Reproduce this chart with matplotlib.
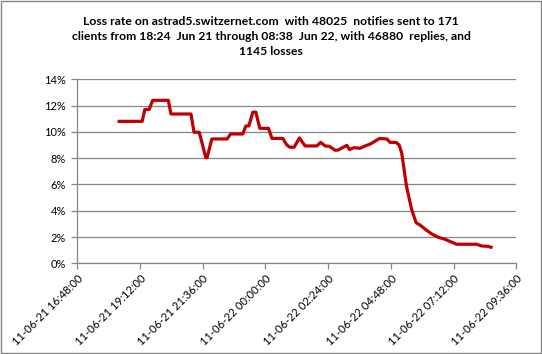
import matplotlib
matplotlib.use('Agg')
import matplotlib.pyplot as plt
import matplotlib.dates as mdates
from matplotlib.patches import Rectangle
from matplotlib.ticker import FuncFormatter
import pandas as pd


times = ["2011-06-21 18:24", "2011-06-21 19:17", "2011-06-21 19:23", "2011-06-21 19:33",
         "2011-06-21 19:41", "2011-06-21 20:17", "2011-06-21 20:23", "2011-06-21 21:09",
         "2011-06-21 21:16", "2011-06-21 21:28", "2011-06-21 21:43", "2011-06-21 21:46",
         "2011-06-21 21:57", "2011-06-21 22:32", "2011-06-21 22:40", "2011-06-21 23:08",
         "2011-06-21 23:15", "2011-06-21 23:22", "2011-06-21 23:31", "2011-06-21 23:38",
         "2011-06-21 23:47", "2011-06-22 00:07", "2011-06-22 00:15", "2011-06-22 00:40",
         "2011-06-22 00:49", "2011-06-22 00:56", "2011-06-22 01:06", "2011-06-22 01:18",
         "2011-06-22 01:31", "2011-06-22 01:58", "2011-06-22 02:07", "2011-06-22 02:17",
         "2011-06-22 02:27", "2011-06-22 02:40", "2011-06-22 02:47", "2011-06-22 03:07",
         "2011-06-22 03:13", "2011-06-22 03:23", "2011-06-22 03:37", "2011-06-22 03:49",
         "2011-06-22 04:00", "2011-06-22 04:22", "2011-06-22 04:39", "2011-06-22 04:46",
         "2011-06-22 05:00", "2011-06-22 05:07", "2011-06-22 05:13", "2011-06-22 05:24",
         "2011-06-22 05:36", "2011-06-22 05:46", "2011-06-22 05:55", "2011-06-22 06:07",
         "2011-06-22 06:22", "2011-06-22 06:37", "2011-06-22 06:52", "2011-06-22 07:19",
         "2011-06-22 08:05", "2011-06-22 08:16", "2011-06-22 08:31", "2011-06-22 08:38"]

loss_rate = [10.8, 10.8, 11.7, 11.7,
             12.4, 12.4, 11.36, 11.36,
             9.97, 9.97, 8.04, 8.04,
             9.46, 9.46, 9.84, 9.84,
             10.45, 10.45, 11.5, 11.5,
             10.27, 10.27, 9.5, 9.5,
             9.0, 8.83, 8.83, 9.54,
             8.93, 8.93, 9.2, 8.93,
             8.9, 8.6, 8.62, 8.98,
             8.65, 8.8, 8.75, 8.93,
             9.06, 9.5, 9.46, 9.2,
             9.2, 9.0, 8.37, 5.83,
             4.06, 3.09, 2.91, 2.59,
             2.23, 1.98, 1.83, 1.45,
             1.45, 1.32, 1.29, 1.22]

x_ticks = pd.date_range("2011-06-21 16:48", "2011-06-22 09:36", freq="144min")

title = ("Loss rate on astrad5.switzernet.com  with 48025  notifies sent to 171\n"
         "clients from 18:24  Jun 21 through 08:38  Jun 22, with 46880  replies, and\n"
         "1145 losses")

plt.rcParams['font.family'] = ['Lato', 'DejaVu Sans']

fig = plt.figure(figsize=(5.42, 3.54), dpi=100)
fig.patches.append(Rectangle((0.001, 0.002), 0.997, 0.995, transform=fig.transFigure,
                             fill=False, edgecolor='#868686', linewidth=1.0))
ax = fig.add_axes([0.1426, 0.2562, 0.81, 0.5198])

t = pd.to_datetime(times)
ax.plot(t, loss_rate, color='#C00000', linewidth=2.3, solid_joinstyle='round')

ax.set_xlim(x_ticks[0], x_ticks[-1])
ax.set_ylim(0, 14)
ax.set_xticks(x_ticks)
ax.xaxis.set_major_formatter(mdates.DateFormatter('%y-%m-%d %H:%M:%S'))
ax.set_yticks(range(0, 15, 2))
ax.yaxis.set_major_formatter(FuncFormatter(lambda v, p: f'{int(v)}%'))

ax.grid(axis='y', color='#868686', linewidth=0.9)
ax.set_axisbelow(True)
for s in ['top', 'right']:
    ax.spines[s].set_visible(False)
for s in ['left', 'bottom']:
    ax.spines[s].set_color('#868686')
    ax.spines[s].set_linewidth(0.9)
ax.tick_params(axis='both', direction='out', length=4, color='#868686', width=0.9,
               labelsize=8, labelcolor='black')
ax.tick_params(axis='y', pad=4)
ax.tick_params(axis='x', pad=3)
for lbl in ax.get_xticklabels():
    lbl.set_rotation(45)
    lbl.set_ha('right')
    lbl.set_rotation_mode('anchor')

fig.text(0.5, 0.955, title, ha='center', va='top', fontsize=8.7, fontweight='bold',
         linespacing=1.45)

fig.savefig('out.png', dpi=100)
